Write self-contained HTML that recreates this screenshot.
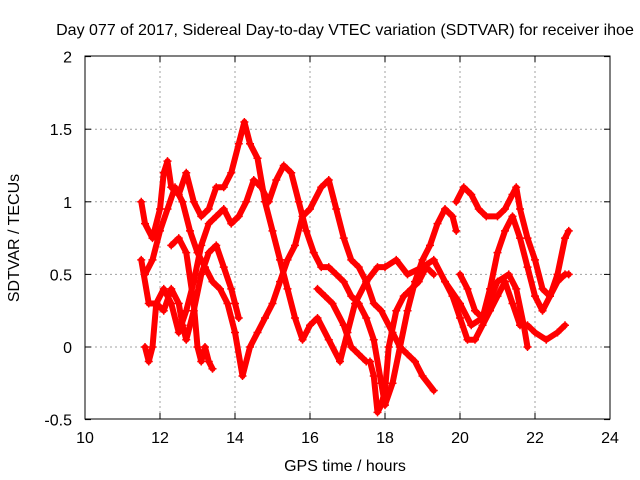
<!DOCTYPE html>
<html><head><meta charset="utf-8"><style>
body{margin:0;background:#fff}
svg{display:block;font-family:"Liberation Sans",sans-serif}
</style></head><body>
<svg id="chart" width="640" height="480">
<text x="345" y="35" font-size="16" text-anchor="middle">Day 077 of 2017, Sidereal Day-to-day VTEC variation (SDTVAR) for receiver ihoe</text>
<text x="345" y="471" font-size="16" text-anchor="middle">GPS time / hours</text>
<text transform="translate(19,238) rotate(-90)" font-size="16" text-anchor="middle">SDTVAR / TECUs</text>
<g id="grid"></g><g id="marks"></g>
<rect x="85" y="56" width="525" height="363" fill="none" stroke="#000"/>
</svg>
<script>
const xTicks=[10,12,14,16,18,20,22,24];
const yTicks=[-0.5,0,0.5,1,1.5,2];
const yTickLabels=["-0.5","0","0.5","1","1.5","2"];
const s1x=[11.5,11.6,11.8,12.0,12.1,12.2,12.3,12.5,12.7,12.9,13.1,13.3,13.5,13.7,13.9,14.1,14.25,14.4,14.6,14.8,15.0,15.2,15.4,15.6,15.8,16.0,16.2,16.5,16.8,17.0,17.2,17.5,17.8,18.0,18.3,18.6,19.0,19.3,19.6,20.0,20.3,20.6,21.0,21.3,21.5,21.7,21.8];
const s1y=[1.0,0.85,0.75,0.95,1.2,1.28,1.1,1.05,1.2,1.0,0.9,0.95,1.1,1.1,1.2,1.4,1.55,1.4,1.3,1.0,0.8,0.6,0.4,0.2,0.05,0.15,0.2,0.05,-0.1,0.1,0.3,0.45,0.55,0.55,0.6,0.5,0.55,0.6,0.45,0.3,0.15,0.2,0.45,0.5,0.4,0.15,0.0];
const s2x=[11.6,11.8,12.0,12.2,12.4,12.6,12.8,13.0,13.2,13.4,13.6,13.8,14.0,14.2,14.4,14.6,14.8,15.0,15.2,15.4,15.6,15.8,16.0,16.3,16.5,16.7,16.9,17.1,17.3,17.5,17.7,17.9,18.2,18.4,18.6,18.8,19.0,19.3];
const s2y=[0.5,0.6,0.8,0.95,1.1,1.0,0.8,0.65,0.55,0.45,0.4,0.3,0.1,-0.2,0.0,0.1,0.2,0.3,0.45,0.6,0.7,0.9,0.95,1.1,1.15,0.95,0.75,0.6,0.55,0.45,0.3,0.25,0.1,0.0,-0.05,-0.1,-0.2,-0.3];
const s3x=[11.5,11.7,11.9,12.1,12.3,12.5,12.7,12.9,13.1,13.3,13.5,13.7,13.9,14.1,14.3,14.5,14.7,14.9,15.1,15.3,15.5,15.7,15.9,16.1,16.3,16.5,16.7,16.9,17.1,17.3,17.5,17.7,17.9,18.0,18.2,18.4,18.6,18.8,19.0,19.2,19.4,19.6,19.8,19.9];
const s3y=[0.6,0.3,0.3,0.4,0.3,0.1,0.25,0.45,0.7,0.85,0.9,0.95,0.85,0.9,1.0,1.15,1.1,1.0,1.15,1.25,1.2,1.0,0.8,0.65,0.55,0.55,0.5,0.45,0.35,0.3,0.2,0.05,-0.25,-0.4,-0.25,0.0,0.25,0.45,0.6,0.7,0.85,0.95,0.9,0.8];
const s4x=[11.6,11.7,11.8,11.9,12.1,12.3,12.5,12.6,12.7,12.9,13.1,13.3,13.5,13.7,13.9,14.0,14.1];
const s4y=[0.0,-0.1,0.0,0.3,0.25,0.4,0.3,0.15,0.05,0.25,0.5,0.65,0.7,0.55,0.4,0.3,0.2];
const s5x=[12.3,12.5,12.7,12.9,13.0,13.1,13.2,13.3,13.4];
const s5y=[0.7,0.75,0.65,0.3,0.0,-0.1,0.0,-0.1,-0.15];
const s6x=[19.9,20.1,20.3,20.5,20.7,21.0,21.2,21.4,21.5,21.6,21.8,22.0,22.2,22.4,22.6,22.8,22.9];
const s6y=[1.0,1.1,1.05,0.95,0.9,0.9,0.95,1.05,1.1,0.95,0.75,0.6,0.4,0.35,0.5,0.75,0.8];
const s7x=[20.0,20.2,20.4,20.6,20.8,21.0,21.2,21.4,21.6,21.8,22.0,22.2,22.4,22.6,22.8,22.9];
const s7y=[0.5,0.4,0.25,0.2,0.4,0.65,0.8,0.9,0.75,0.55,0.35,0.25,0.35,0.45,0.5,0.5];
const s8x=[19.6,19.8,20.0,20.2,20.4,20.6,20.8,21.0,21.2,21.4,21.6,21.8,22.0,22.3,22.6,22.8];
const s8y=[0.45,0.35,0.2,0.05,0.05,0.15,0.25,0.35,0.45,0.3,0.15,0.15,0.1,0.05,0.1,0.15];
const s9x=[17.6,17.7,17.8,17.9,18.0,18.1,18.3,18.5,18.7,18.9,19.1,19.3];
const s9y=[-0.1,-0.2,-0.45,-0.4,-0.3,0.0,0.25,0.35,0.4,0.45,0.55,0.5];
const s10x=[16.2,16.4,16.6,16.9,17.1,17.3,17.5];
const s10y=[0.4,0.35,0.3,0.15,0.0,-0.05,-0.1];
const seriesX=[s1x,s2x,s3x,s4x,s5x,s6x,s7x,s8x,s9x,s10x];
const seriesY=[s1y,s2y,s3y,s4y,s5y,s6y,s7y,s8y,s9y,s10y];

const X=h=>85+(h-10)*525/14;
const Y=v=>347-v*145.2;
const NS="http://www.w3.org/2000/svg";
const grid=document.getElementById('grid');
const marks=document.getElementById('marks');
function mk(tag,attrs,parent){const e=document.createElementNS(NS,tag);for(const k in attrs)e.setAttribute(k,attrs[k]);parent.appendChild(e);return e;}
xTicks.forEach((t,i)=>{
  const x=X(t);
  if(i>0&&i<xTicks.length-1){const g=mk('line',{x1:x,x2:x,y1:56,y2:419,stroke:'#a0a0a0','stroke-dasharray':'2,3'},grid);
    
    }
  mk('line',{x1:x,x2:x,y1:419,y2:413,stroke:'#000'},grid);
  mk('line',{x1:x,x2:x,y1:56,y2:62,stroke:'#000'},grid);
  const tx=mk('text',{x:x,y:443,'font-size':16,'text-anchor':'middle'},grid);tx.textContent=t;
  
  
});
yTicks.forEach((t,i)=>{
  const y=Y(t);
  if(i>0&&i<yTicks.length-1){const g=mk('line',{x1:85,x2:610,y1:y,y2:y,stroke:'#a0a0a0','stroke-dasharray':'2,3'},grid);
    
    }
  mk('line',{x1:85,x2:91,y1:y,y2:y,stroke:'#000'},grid);
  mk('line',{x1:604,x2:610,y1:y,y2:y,stroke:'#000'},grid);
  const tx=mk('text',{x:72,y:y+6,'font-size':16,'text-anchor':'end'},grid);tx.textContent=yTickLabels[i];
  
  
});
seriesX.forEach((xs,si)=>{
  const ys=seriesY[si];
  const g=mk('g',{},marks);
  
  
  const pts=xs.map((h,i)=>X(h)+','+Y(ys[i])).join(' ');
  mk('polyline',{points:pts,fill:'none',stroke:'#f00','stroke-width':6,'stroke-linejoin':'round','stroke-linecap':'round'},g);
  xs.forEach((h,i)=>{
    const x=X(h),y=Y(ys[i]);
    const p=mk('path',{d:`M${x-4},${y}h8M${x},${y-4}v8`,stroke:'#f00','stroke-width':1.5},g);
    
    
  });
});
</script>
</body></html>
